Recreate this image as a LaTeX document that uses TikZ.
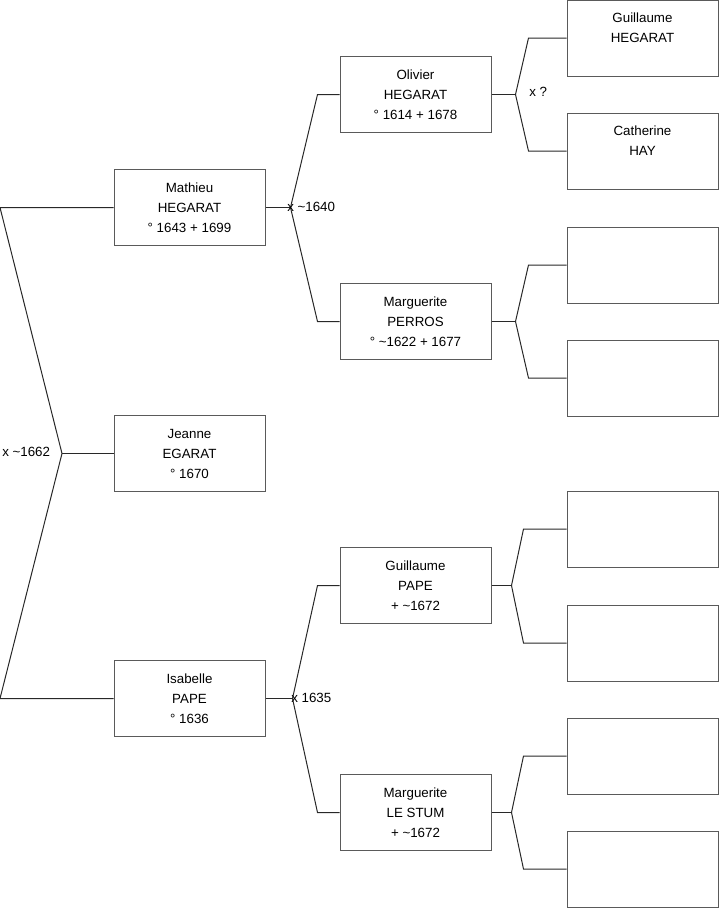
\documentclass[tikz,border=0pt]{standalone}
\usepackage{fontspec}
\setmainfont{Liberation Sans}
\usetikzlibrary{positioning,calc}
\definecolor{boxgray}{RGB}{90,90,90}
\definecolor{linegray}{RGB}{40,40,40}
\newcommand{\apx}{\textasciitilde}

\begin{document}
\begin{tikzpicture}[x=0.75pt, y=-0.75pt,
  every node/.style={font=\fontsize{10}{15}\selectfont},
  person/.style={rectangle, draw=boxgray, line width=0.75pt, minimum width=113.25pt, minimum height=57pt, align=center, inner sep=0pt},
  link/.style={draw=linegray, line width=0.75pt},
  mariage/.style={anchor=west, inner sep=0pt}]
\useasboundingbox (0,0) rectangle (719,908);
% Generation 1 and 2
\node[person] (mathieu) at (189.5,207.5) {Mathieu\\HEGARAT\\° 1643 + 1699};
\node[person] (jeanne) at (189.5,453.5) {Jeanne\\EGARAT\\° 1670};
\node[person] (isabelle) at (189.5,698.5) {Isabelle\\PAPE\\° 1636};
% Generation 3
\node[person] (olivier) at (415.5,94.5) {Olivier\\HEGARAT\\° 1614 + 1678};
\node[person] (margperros) at (415.5,321.5) {Marguerite\\PERROS\\° \apx1622 + 1677};
\node[person] (guillpape) at (415.5,585.5) {Guillaume\\PAPE\\+ \apx1672};
\node[person] (margstum) at (415.5,812.5) {Marguerite\\LE STUM\\+ \apx1672};
% Generation 4
\foreach \n/\y/\txt in {a1/38/{Guillaume\\HEGARAT\\~}, a2/151/{Catherine\\HAY\\~}, a3/265/{}, a4/378/{},
                        a5/529/{}, a6/643/{}, a7/756/{}, a8/869/{}} {
  \node[person] (\n) at (642.5,\y) {\txt};
}
% Root couple
\coordinate (lft) at (0,454);
\coordinate (xroot) at (62,453.5);
\draw[link] (mathieu.west) -- (mathieu.west -| lft) -- (xroot) -- (isabelle.west -| lft) -- (isabelle.west);
\draw[link] (xroot) -- (jeanne.west);
\node[mariage] (lroot) at (2,452) {x \apx1662};
% Parents
\foreach \c/\d/\p/\m/\g in {mathieu/25/olivier/margperros/22, isabelle/27/guillpape/margstum/22,
                            olivier/24/a1/a2/38, margperros/24/a3/a4/38,
                            guillpape/20/a5/a6/43, margstum/20/a7/a8/43} {
  \coordinate (x\c) at ($(\c.east)+(\d,0)$);
  \draw[link] (\c.east) -- (x\c);
  \draw[link] (x\c) -- ($(\p.west)+(-\g,0)$) -- (\p.west);
  \draw[link] (x\c) -- ($(\m.west)+(-\g,0)$) -- (\m.west);
}
\node[mariage] (lmathieu) at (287,207) {x \apx1640};
\node[mariage] (lisabelle) at (291,698) {x 1635};
\node[mariage] (lolivier) at (529,92) {x ?};
\end{tikzpicture}
\end{document}
